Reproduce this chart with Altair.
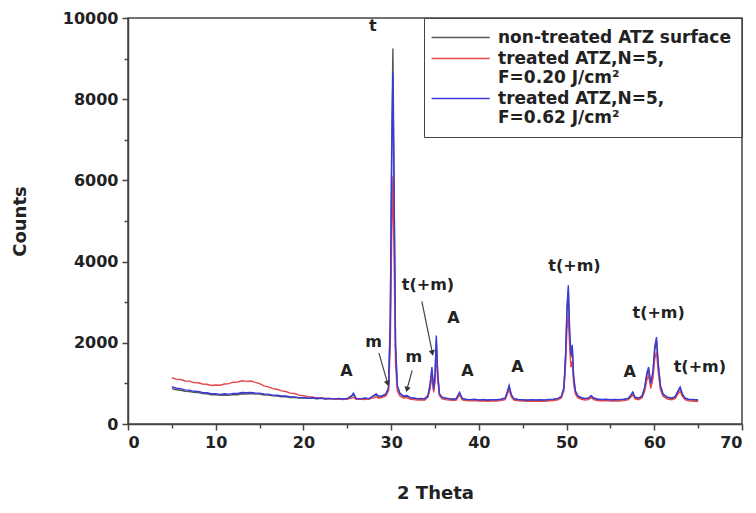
import altair as alt
import pandas as pd

# 2-theta positions (degrees) shared by all three scans
two_theta = [
    5.0, 5.5, 6.0, 6.5, 7.0, 7.5, 8.0, 8.5, 9.0, 9.5,
    10.0, 10.5, 11.0, 11.5, 12.0, 12.5, 13.0, 13.5, 14.0, 14.5,
    15.0, 15.5, 16.0, 16.5, 17.0, 17.5, 18.0, 18.5, 19.0, 19.5,
    20.0, 20.5, 21.0, 21.5, 22.0, 22.5, 23.0, 23.5, 24.0, 24.5,
    25.0, 25.5, 25.7, 26.0, 26.5, 27.0, 27.5, 28.0, 28.3, 28.6, 29.0,
    29.4, 29.7, 29.9, 30.05, 30.2, 30.35, 30.5, 30.7, 31.0, 31.4,
    31.8, 32.2, 32.6, 33.0, 33.4, 33.8,
    34.2, 34.45, 34.65, 34.85, 35.0, 35.15, 35.3, 35.5, 35.8, 36.2,
    36.6, 37.0, 37.4, 37.8, 38.1, 38.5, 39.0, 39.5, 40.0, 40.5,
    41.0, 41.5, 42.0, 42.5, 43.0, 43.25, 43.45, 43.7, 44.0, 44.5,
    45.0, 45.5, 46.0, 46.5, 47.0, 47.5, 48.0, 48.5, 49.0, 49.4,
    49.7, 49.9, 50.05, 50.2, 50.35, 50.5, 50.65, 50.8, 51.0, 51.3,
    51.7, 52.1, 52.5, 52.8, 53.1, 53.5, 54.0, 54.5, 55.0, 55.5,
    56.0, 56.5, 57.0, 57.3, 57.55, 57.8, 58.2, 58.6, 58.9, 59.15,
    59.35, 59.6, 59.85, 60.05, 60.25, 60.45, 60.7, 61.0, 61.5, 62.0,
    62.4, 62.7, 62.95, 63.2, 63.5, 63.9, 64.3, 64.7, 65.0,
]

counts_untreated = [
    870, 845, 830, 808, 800, 778, 772, 748, 745, 722,
    720, 705, 715, 705, 725, 720, 745, 740, 750, 738,
    735, 715, 712, 692, 690, 672, 672, 652, 655, 640,
    645, 630, 636, 622, 630, 615, 625, 612, 622, 610,
    620, 680, 730, 622, 612, 632, 618, 690, 720, 670, 690,
    720, 880, 2600, 6600, 9250, 5600, 2000, 930, 740, 670,
    690, 640, 630, 615, 620, 610,
    690, 960, 1330, 830, 1150, 2080, 1250, 730, 650, 630,
    615, 605, 610, 760, 620, 600, 592, 598, 586, 592,
    584, 590, 588, 600, 630, 780, 920, 705, 615, 596,
    588, 583, 590, 581, 588, 585, 595, 602, 620, 668,
    880, 1720, 2780, 3280, 2200, 1640, 1860, 1150, 800, 680,
    640, 620, 630, 690, 630, 605, 596, 600, 588, 595,
    590, 600, 620, 690, 770, 650, 630, 678, 870, 1200,
    1340, 960, 1250, 1820, 2060, 1440, 920, 725, 650, 630,
    668, 800, 885, 725, 630, 600, 595, 590, 585,
]

counts_f020 = [
    1140, 1105, 1095, 1060, 1055, 1020, 1015, 985, 980, 950,
    960, 955, 985, 995, 1030, 1035, 1065, 1050, 1060, 1025,
    995, 940, 915, 870, 855, 815, 800, 760, 750, 710,
    700, 670, 668, 645, 645, 628, 630, 612, 620, 605,
    612, 640, 655, 608, 612, 600, 618, 642, 668, 635, 655,
    690, 820, 1900, 4400, 6100, 3900, 1500, 820, 690, 640,
    650, 610, 600, 590, 595, 585,
    660, 880, 1180, 780, 1050, 1800, 1120, 700, 620, 600,
    590, 582, 585, 720, 595, 578, 570, 575, 565, 572,
    562, 568, 566, 576, 600, 730, 850, 670, 590, 572,
    566, 560, 568, 558, 565, 562, 572, 578, 595, 640,
    820, 1500, 2350, 2700, 1900, 1400, 1550, 1000, 740, 640,
    610, 592, 600, 650, 600, 580, 572, 576, 565, 570,
    566, 575, 592, 650, 720, 620, 600, 640, 800, 1080,
    1200, 880, 1120, 1600, 1780, 1280, 840, 680, 615, 598,
    630, 740, 810, 680, 598, 572, 568, 562, 560,
]

counts_f062 = [
    920, 880, 870, 840, 835, 805, 800, 775, 770, 745,
    745, 730, 745, 735, 755, 750, 775, 770, 780, 765,
    760, 740, 735, 712, 710, 690, 690, 668, 668, 650,
    655, 638, 645, 628, 638, 622, 632, 618, 630, 615,
    628, 700, 760, 630, 618, 640, 625, 700, 740, 680, 700,
    740, 900, 2450, 6150, 8650, 5300, 1900, 950, 760, 690,
    700, 650, 640, 625, 630, 620,
    700, 1000, 1400, 850, 1200, 2180, 1300, 750, 660, 640,
    625, 615, 620, 780, 630, 610, 600, 608, 595, 602,
    592, 600, 598, 610, 640, 800, 950, 720, 625, 605,
    598, 592, 600, 590, 598, 595, 605, 612, 630, 680,
    900, 1800, 2900, 3420, 2300, 1700, 1950, 1200, 820, 690,
    650, 630, 640, 700, 640, 615, 605, 610, 598, 605,
    600, 610, 630, 700, 790, 660, 640, 690, 900, 1250,
    1400, 1000, 1300, 1900, 2140, 1500, 950, 740, 660, 640,
    680, 820, 910, 740, 640, 610, 605, 600, 595,
]

# "|" separates the lines of a two-line legend label
series_names = [
    "non-treated ATZ surface",
    "treated ATZ,N=5,| F=0.20 J/cm\u00b2",
    "treated ATZ,N=5,|F=0.62 J/cm\u00b2",
]
series_colors = ["#555555", "#e4464a", "#3a3adc"]

# phase labels: A = alumina, t = tetragonal, m = monoclinic zirconia
label_text = ["t", "A", "m", "m", "t(+m)", "A", "A", "A", "t(+m)", "A", "t(+m)", "t(+m)"]
label_x = [27.9, 24.9, 28.0, 32.6, 34.2, 37.1, 38.7, 44.4, 50.9, 57.2, 60.5, 65.2]
label_y = [9800, 1300, 2020, 1650, 3420, 2600, 1300, 1400, 3900, 1280, 2730, 1400]

# arrows from a label to the reflection it names
arrow_x = [28.6, 32.4, 33.5]
arrow_y = [1750, 1320, 3020]
arrow_x2 = [29.6, 31.8, 34.7]
arrow_y2 = [1000, 850, 1750]
arrow_angle = [344, 16, 348]

assert len(two_theta) == len(counts_untreated) == len(counts_f020) == len(counts_f062)

frames = []
for name, ys in zip(series_names, [counts_untreated, counts_f020, counts_f062]):
    frames.append(pd.DataFrame({"theta": two_theta, "counts": ys, "sample": name}))
scans = pd.concat(frames, ignore_index=True)

labels = pd.DataFrame({"text": label_text, "x": label_x, "y": label_y})
arrows = pd.DataFrame({"x": arrow_x, "y": arrow_y, "x2": arrow_x2, "y2": arrow_y2,
                       "angle": arrow_angle})

FONT = "DejaVu Sans"

x_scale = alt.Scale(domain=[0, 70], nice=False)
y_scale = alt.Scale(domain=[0, 10000], nice=False)

x_axis = alt.Axis(
    title="2 Theta",
    values=list(range(0, 71, 5)),
    labelExpr="datum.value % 10 == 0 ? datum.label : ''",
    tickSize={"condition": {"test": "datum.value % 10 == 0", "value": 6}, "value": 4},
    grid=False,
    titlePadding=34,
)
y_axis = alt.Axis(
    title="Counts",
    values=list(range(0, 10001, 1000)),
    labelExpr="datum.value % 2000 == 0 ? datum.label : ''",
    tickSize={"condition": {"test": "datum.value % 2000 == 0", "value": 6}, "value": 4},
    grid=False,
    format="d",
    titlePadding=33,
)

lines = alt.Chart(scans).mark_line(strokeWidth=1.4, interpolate="linear").encode(
    x=alt.X("theta:Q", scale=x_scale, axis=x_axis),
    y=alt.Y("counts:Q", scale=y_scale, axis=y_axis),
    color=alt.Color(
        "sample:N",
        scale=alt.Scale(domain=series_names, range=series_colors),
        sort=series_names,
        legend=alt.Legend(
            title=None,
            orient="top-right",
            offset=0,
            labelExpr="split(datum.label, '|')",
            labelBaseline="middle",
            # a long horizontal stroke on a small symbol box keeps rows compact
            symbolType="M-1.7,0H6.6",
            symbolSize=196,
            symbolStrokeWidth=1.5,
            labelOffset=46,
            strokeColor="#444",
            padding=11,
            labelFont=FONT,
            labelFontSize=17,
            labelFontWeight="bold",
            labelColor="#222",
            labelLimit=400,
            rowPadding=3,
        ),
    ),
    order=alt.Order("theta:Q"),
)

text = alt.Chart(labels).mark_text(
    font=FONT, fontSize=16, fontWeight="bold", color="#222", baseline="middle"
).encode(x=alt.X("x:Q", scale=x_scale), y=alt.Y("y:Q", scale=y_scale), text="text:N")

arrow_lines = alt.Chart(arrows).mark_rule(color="#444", strokeWidth=1.2).encode(
    x=alt.X("x:Q", scale=x_scale), y=alt.Y("y:Q", scale=y_scale), x2="x2:Q", y2="y2:Q"
)
arrow_heads = alt.Chart(arrows).mark_point(
    shape="triangle-down", filled=True, color="#333", size=40, opacity=1
).encode(
    x=alt.X("x2:Q", scale=x_scale), y=alt.Y("y2:Q", scale=y_scale),
    angle=alt.Angle("angle:Q", scale=None),
)

chart = alt.layer(lines, arrow_lines, arrow_heads, text).properties(
    width=614,
    height=406,
    autosize=alt.AutoSizeParams(type="none"),
    padding={"left": 128, "top": 18, "right": 14, "bottom": 89},
    background="white",
).configure_view(
    stroke="#444", strokeWidth=1.5
).configure_axis(
    domainColor="#444", domainWidth=1.5, tickColor="#444", tickWidth=1.5,
    labelFont=FONT, labelFontSize=16, labelFontWeight="bold", labelColor="#222",
    titleFont=FONT, titleFontSize=18, titleFontWeight="bold", titleColor="#222",
    labelPadding=4,
)

chart.save("out.html", embed_options={"renderer": "svg", "actions": False})
